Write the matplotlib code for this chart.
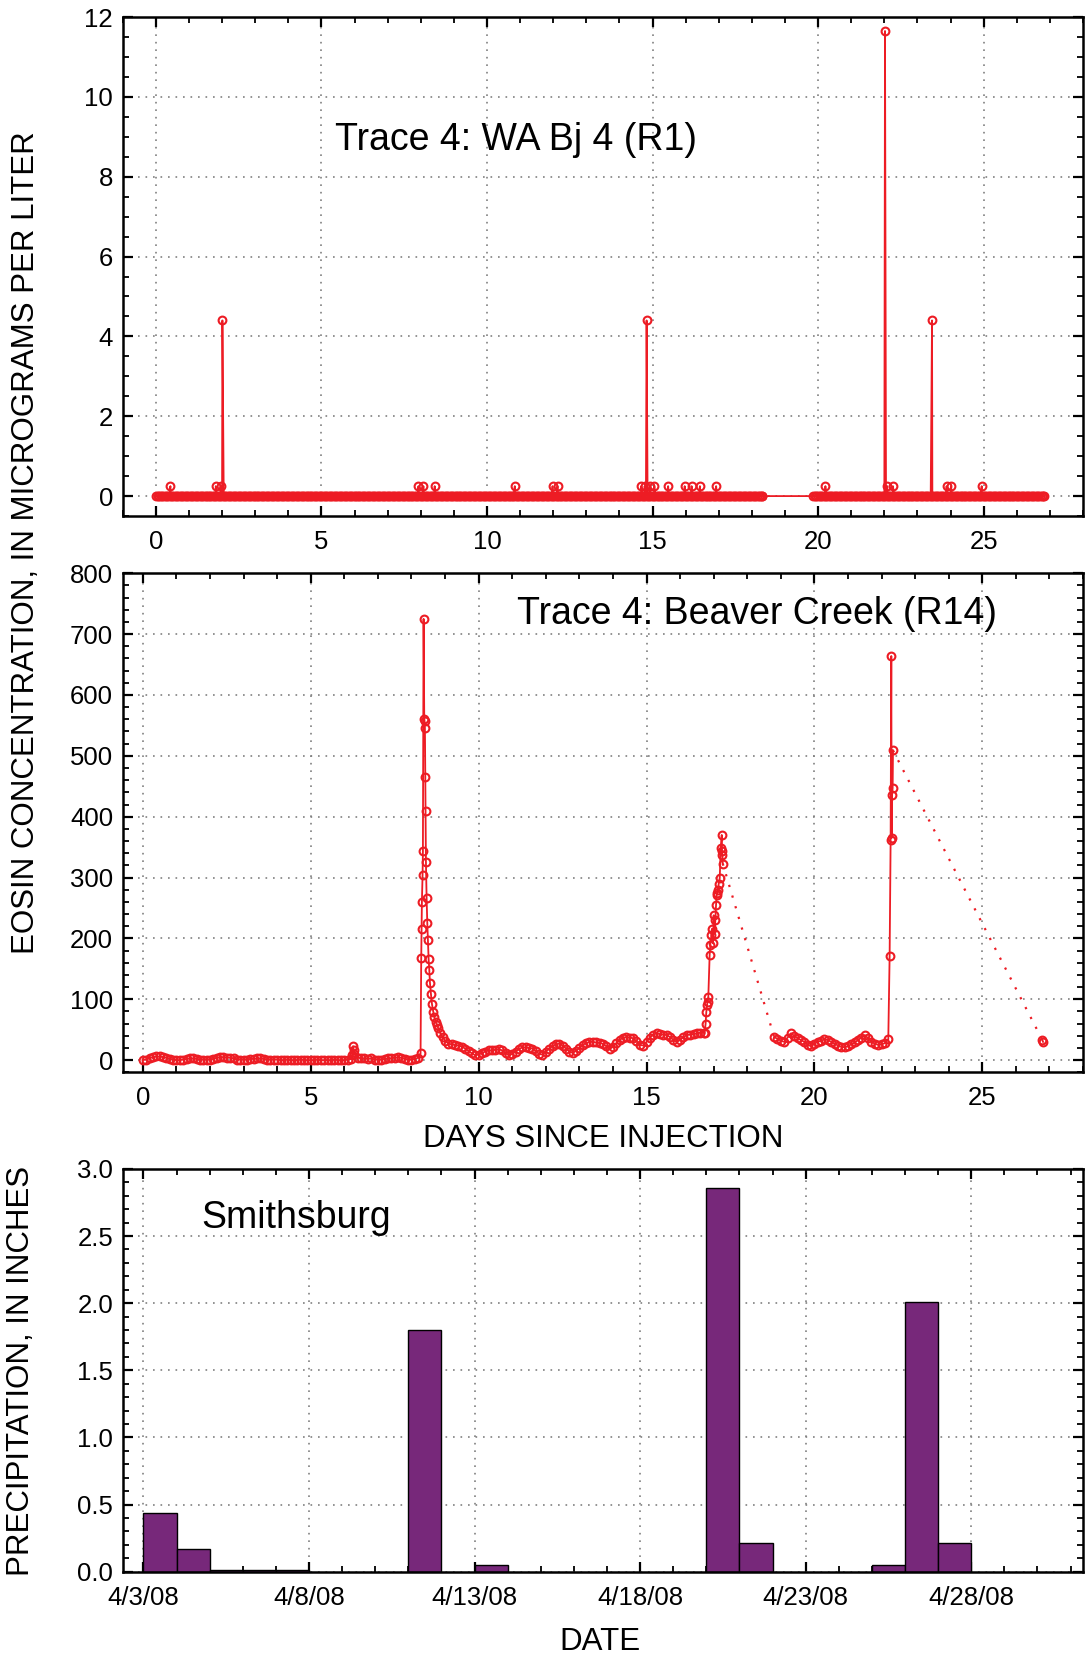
import matplotlib
matplotlib.use('Agg')
import matplotlib.pyplot as plt
import matplotlib.dates as mdates
import numpy as np
import pandas as pd
from matplotlib.ticker import MultipleLocator, FormatStrFormatter

plt.rcParams['font.family'] = ['Liberation Sans', 'DejaVu Sans']

RED = '#ED1C24'
PURPLE = '#77287A'

# ---- Trace 4: WA Bj 4 (R1), eosin in micrograms per liter ----
r1_step = 0.05                                  # sampling interval, days
r1_runs = [(0.0, 18.31), (19.85, 26.83)]        # sampler running, days
r1_hit_days = [0.44, 1.81, 1.96, 2.01, 7.93, 8.08, 8.42, 10.84, 11.98, 12.13,
               14.66, 14.76, 14.82, 14.92, 15.05, 15.47, 15.97, 16.18, 16.43,
               16.92, 20.22, 22.02, 22.09, 22.26, 23.44, 23.88, 24.01, 24.94]
r1_hit_vals = [0.25, 0.25, 0.25, 4.4, 0.25, 0.25, 0.25, 0.25, 0.25, 0.25,
               0.25, 0.25, 4.4, 0.25, 0.25, 0.25, 0.25, 0.25, 0.25,
               0.25, 0.25, 11.65, 0.25, 0.25, 4.4, 0.25, 0.25, 0.25]

# ---- Trace 4: Beaver Creek (R14) ----
# baseline 0.0 - 8.2 days every 0.1 day
r14_base1 = [0, 1, 3, 5, 6, 6, 5, 4, 2, 1,
             0, 0, 1, 2, 3, 3, 2, 1, 1, 1,
             1, 2, 4, 5, 5, 4, 4, 3, 1, 1,
             1, 1, 2, 2, 3, 3, 2, 1, 1, 1,
             1, 0, 0, 1, 0, 0, 0, 1, 0, 0,
             0, 0, 1, 0, 0, 0, 0, 1, 0, 0,
             0, 1,
             2, 10, 4, 3, 3, 2, 3, 1,
             1, 1, 2, 3, 3, 4, 5, 4, 2, 1,
             1, 2, 4]
r14_blip_days = [6.24, 6.26, 6.28]
r14_blip_vals = [8, 23, 17]
r14_peak1_days = [8.27, 8.29, 8.30, 8.31, 8.33, 8.34, 8.36, 8.38, 8.39, 8.40,
                  8.41, 8.42, 8.43, 8.45, 8.47, 8.49, 8.51, 8.53, 8.55, 8.58,
                  8.61, 8.65, 8.68, 8.72, 8.76, 8.80, 8.86, 8.93, 9.00]
r14_peak1_vals = [11, 168, 215, 260, 305, 343, 725, 561, 557, 546,
                  465, 410, 326, 267, 226, 197, 166, 148, 127, 108,
                  92, 79, 71, 63, 58, 52, 44, 38, 32]
# 9.1 - 16.7 days every 0.1 day
r14_base2 = [27, 26, 25, 24, 22, 19, 15, 11, 8,
             9, 12, 14, 16, 16, 17, 18, 16, 12, 8,
             10, 14, 18, 21, 21, 20, 19, 15, 10, 9,
             14, 19, 23, 26, 27, 24, 19, 14, 12, 15,
             20, 25, 28, 30, 30, 29, 28, 27, 23, 18,
             22, 28, 33, 37, 38, 37, 36, 31, 25, 24,
             30, 37, 42, 44, 43, 42, 41, 38, 33, 30,
             33, 38, 41, 42, 43, 44, 45, 45]
r14_peak2_days = [16.73, 16.76, 16.78, 16.80, 16.82, 16.84, 16.88, 16.90, 16.93,
                  16.95, 16.98, 17.00, 17.03, 17.05, 17.07, 17.09, 17.11, 17.13,
                  17.15, 17.18, 17.21, 17.24, 17.25, 17.26, 17.27]
r14_peak2_vals = [44, 60, 79, 90, 96, 104, 173, 189, 205,
                  216, 192, 238, 208, 231, 255, 271, 275, 280,
                  290, 299, 349, 370, 343, 337, 323]
# 18.8 - 22.2 days every 0.1 day
r14_base3 = [38, 35, 32, 30, 37, 44, 40, 36, 33, 30, 25, 23,
             27, 30, 32, 34, 33, 30, 27, 24, 22, 21,
             23, 26, 29, 33, 37, 41, 36, 30, 27, 25,
             26, 28, 34]
r14_peak3_days = [22.24, 22.27, 22.29, 22.30, 22.31, 22.33, 22.34]
r14_peak3_vals = [171, 362, 664, 365, 435, 447, 509]
r14_last_days = [26.79, 26.81]
r14_last_vals = [33, 30]

# ---- Smithsburg precipitation, inches ----
rain_dates = ['2008-04-03', '2008-04-04', '2008-04-05', '2008-04-06', '2008-04-07',
              '2008-04-11', '2008-04-13', '2008-04-20', '2008-04-21',
              '2008-04-25', '2008-04-26', '2008-04-27']
rain_in = [0.44, 0.17, 0.01, 0.01, 0.01, 1.80, 0.05, 2.86, 0.21, 0.05, 2.01, 0.21]
date_ticks = ['2008-04-03', '2008-04-08', '2008-04-13', '2008-04-18', '2008-04-23', '2008-04-28']
date_labels = ['4/3/08', '4/8/08', '4/13/08', '4/18/08', '4/23/08', '4/28/08']


def grid_days(start, n, step=0.1):
    return np.round(start + step * np.arange(n), 2)


# assemble R1 series
t1 = np.concatenate([np.append(np.arange(a, b, r1_step), b) for a, b in r1_runs])
c1 = np.zeros_like(t1)
t1 = np.concatenate([t1, r1_hit_days])
c1 = np.concatenate([c1, r1_hit_vals])
order = np.argsort(t1, kind='stable')
t1, c1 = t1[order], c1[order]

# assemble R14 segments
seg_a_t = np.concatenate([grid_days(0.0, len(r14_base1)), r14_blip_days,
                          r14_peak1_days, grid_days(9.1, len(r14_base2)), r14_peak2_days])
seg_a_c = np.concatenate([r14_base1, r14_blip_vals, r14_peak1_vals, r14_base2, r14_peak2_vals])
order = np.argsort(seg_a_t, kind='stable')
seg_a_t, seg_a_c = seg_a_t[order], seg_a_c[order]
seg_b_t = np.concatenate([grid_days(18.8, len(r14_base3)), r14_peak3_days])
seg_b_c = np.concatenate([r14_base3, r14_peak3_vals])


def style(ax):
    for s in ax.spines.values():
        s.set_linewidth(1.8)
    ax.tick_params(which='both', direction='in', top=True, right=True, labelsize=18.5)
    ax.tick_params(axis='x', pad=10)
    ax.tick_params(axis='y', pad=7)
    ax.tick_params(which='major', length=7.5, width=1.6)
    ax.tick_params(which='minor', length=4.5, width=1.3)
    ax.grid(True, which='major', color='#808080', linestyle=(0, (1, 3.5)), linewidth=1.2)
    ax.set_axisbelow(True)


fig = plt.figure(figsize=(10.9, 16.54), dpi=100)
ax1 = fig.add_axes([0.1126, 0.6880, 0.8810, 0.3017])
ax2 = fig.add_axes([0.1126, 0.3517, 0.8810, 0.3017])
ax3 = fig.add_axes([0.1126, 0.0498, 0.8810, 0.2435])

mk = dict(color=RED, lw=1.3, marker='o', ms=5.6, mfc='none', mew=1.5)

# top panel
ax1.plot(t1, c1, **mk)
ax1.set_xlim(-1.0, 28)
ax1.set_ylim(-0.5, 12)
ax1.xaxis.set_major_locator(MultipleLocator(5))
ax1.xaxis.set_minor_locator(MultipleLocator(1))
ax1.yaxis.set_major_locator(MultipleLocator(2))
ax1.yaxis.set_minor_locator(MultipleLocator(0.5))
style(ax1)
ax1.text(5.42, 8.66, 'Trace 4: WA Bj 4 (R1)', fontsize=27, va='baseline')

# middle panel
ax2.plot(seg_a_t, seg_a_c, **mk)
ax2.plot(seg_b_t, seg_b_c, **mk)
ax2.plot(r14_last_days, r14_last_vals, **mk)
ax2.plot([seg_a_t[-1], seg_b_t[0]], [seg_a_c[-1], seg_b_c[0]], color=RED, lw=1.6,
         linestyle=(0, (1, 4)))
ax2.plot([seg_b_t[-1], r14_last_days[0]], [seg_b_c[-1], r14_last_vals[0]], color=RED, lw=1.6,
         linestyle=(0, (1, 4)))
ax2.set_xlim(-0.6, 28)
ax2.set_ylim(-20, 800)
ax2.xaxis.set_major_locator(MultipleLocator(5))
ax2.xaxis.set_minor_locator(MultipleLocator(1))
ax2.yaxis.set_major_locator(MultipleLocator(100))
ax2.yaxis.set_minor_locator(MultipleLocator(20))
style(ax2)
ax2.text(11.13, 717, 'Trace 4: Beaver Creek (R14)', fontsize=27, va='baseline')

# bottom panel
ax3.bar(pd.to_datetime(rain_dates), rain_in, width=1.0, align='edge',
        color=PURPLE, edgecolor='black', linewidth=1.0)
ax3.set_xlim(pd.Timestamp('2008-04-02 09:00'), pd.Timestamp('2008-05-01 09:00'))
ax3.set_ylim(0, 3.0)
ax3.set_xticks(pd.to_datetime(date_ticks))
ax3.set_xticklabels(date_labels)
ax3.xaxis.set_minor_locator(mdates.DayLocator())
ax3.yaxis.set_major_locator(MultipleLocator(0.5))
ax3.yaxis.set_minor_locator(MultipleLocator(0.1))
ax3.yaxis.set_major_formatter(FormatStrFormatter('%.1f'))
style(ax3)
ax3.text(pd.Timestamp('2008-04-04 18:00'), 2.56, 'Smithsburg', fontsize=27, va='baseline')

# axis titles
fig.text(0.024, 0.6717, 'EOSIN CONCENTRATION, IN MICROGRAMS PER LITER', fontsize=22.5,
         rotation=90, ha='center', va='center')
fig.text(0.553, 1 - 1147 / 1654, 'DAYS SINCE INJECTION', fontsize=22.5, ha='center', va='baseline')
fig.text(0.0195, 0.1714, 'PRECIPITATION, IN INCHES', fontsize=22.5, rotation=90,
         ha='center', va='center')
fig.text(0.5505, 0.0024, 'DATE', fontsize=22.5, ha='center', va='baseline')

fig.savefig('out.png', dpi=100)
